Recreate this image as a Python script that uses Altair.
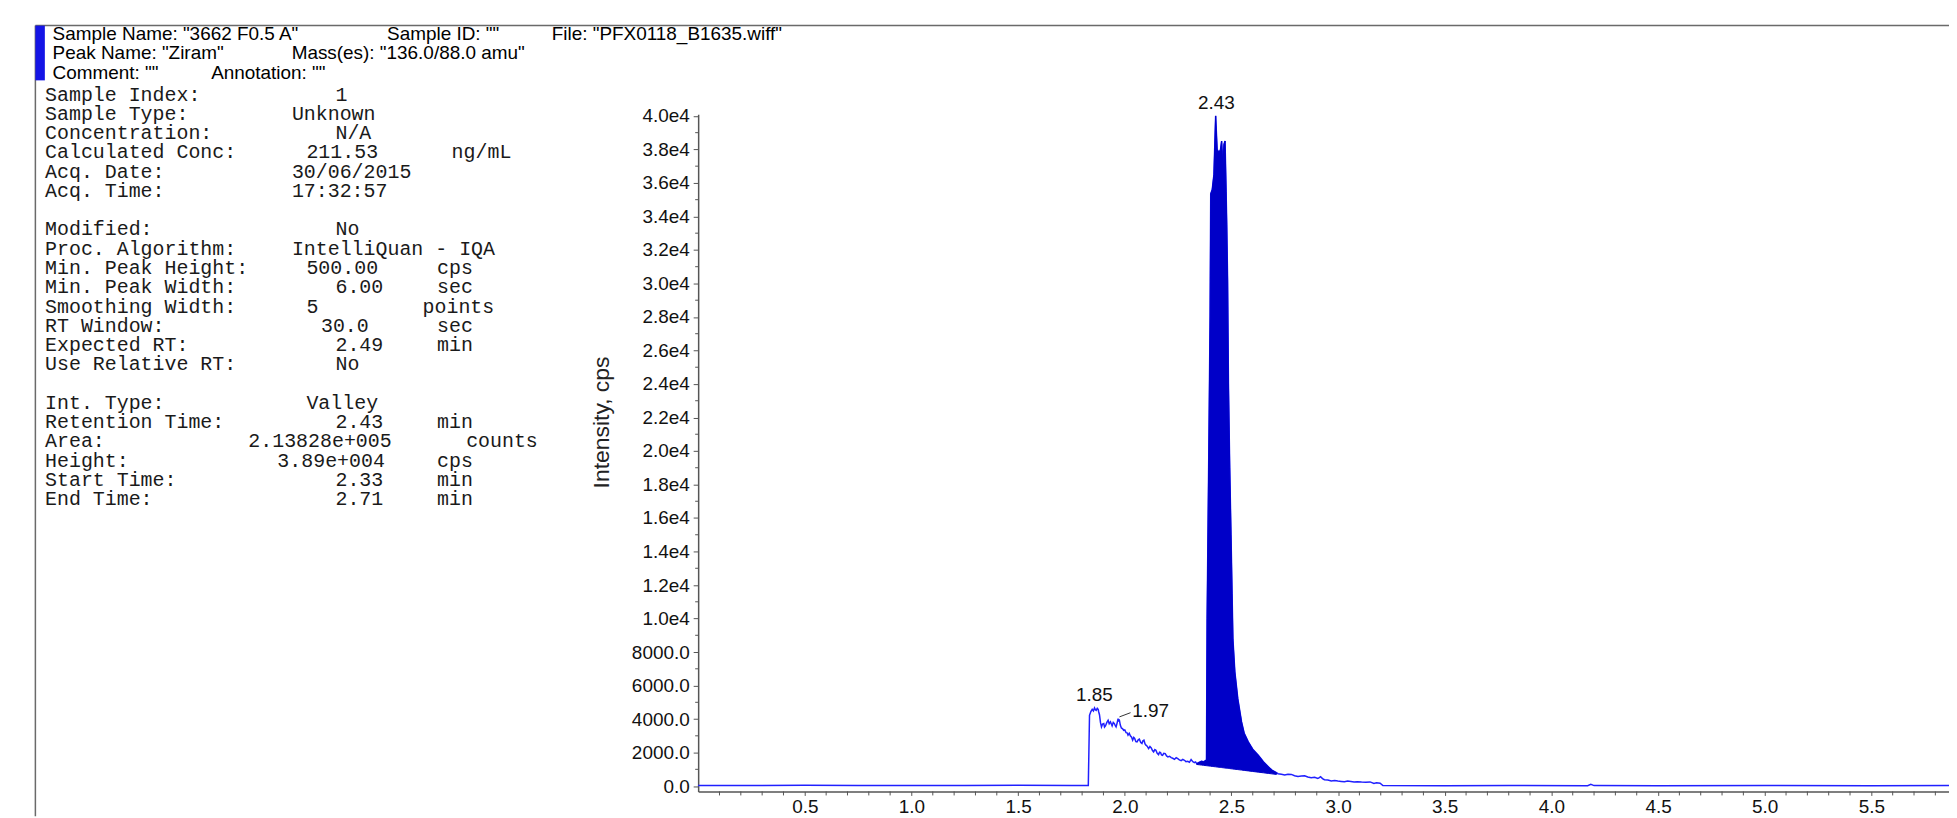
import altair as alt
import pandas as pd

# ---------------- data ----------------
trace_t = [0.0, 0.25, 0.5, 0.75, 1.0, 1.25, 1.5, 1.75, 1.829,
           1.8347, 1.841, 1.8472, 1.853, 1.8581, 1.862, 1.8659, 1.871, 1.8752, 1.878, 1.8814,
           1.886, 1.8908, 1.896, 1.9016, 1.905, 1.9094, 1.916, 1.9219, 1.927, 1.9328, 1.937,
           1.9406, 1.946, 1.9514, 1.955, 1.9592, 1.964, 1.9686, 1.9715, 1.9748, 1.979, 1.9841,
           1.99, 1.995, 2.0, 2.0059, 2.011, 2.0152, 2.021, 2.0261, 2.032, 2.037, 2.042, 2.0464,
           2.052, 2.0573, 2.063, 2.0682, 2.075, 2.0806, 2.085, 2.09, 2.095, 2.0993, 2.105,
           2.1117, 2.118, 2.1242, 2.13, 2.1351, 2.141, 2.146, 2.152, 2.1584, 2.163, 2.1678,
           2.172, 2.1771, 2.183, 2.1895, 2.196, 2.202, 2.21, 2.2176, 2.225, 2.2331, 2.241,
           2.2487, 2.256, 2.2643, 2.272, 2.2798, 2.287, 2.2954, 2.303, 2.3109, 2.319, 2.3265,
           2.332, 2.3374,
           2.35, 2.36, 2.37, 2.383, 2.386, 2.394, 2.40, 2.403, 2.41, 2.418, 2.426, 2.433,
           2.442, 2.449, 2.454, 2.46, 2.465, 2.47, 2.475, 2.478, 2.482, 2.486, 2.492, 2.498,
           2.503, 2.507, 2.516, 2.53, 2.5475, 2.56, 2.579, 2.60, 2.626, 2.65, 2.673, 2.69, 2.711,
           2.7186, 2.734, 2.7497, 2.765, 2.7809, 2.796, 2.812, 2.828, 2.843, 2.858, 2.874, 2.89,
           2.905, 2.912, 2.918, 2.927, 2.936, 2.952, 2.968, 2.984, 2.999, 3.015, 3.03, 3.045,
           3.06, 3.075, 3.09, 3.11, 3.13, 3.15, 3.168, 3.18, 3.197, 3.21,
           3.5, 3.8, 4.17, 4.185, 4.2, 4.5, 5.0, 5.5, 5.864]
trace_i = [40, 30, 45, 35, 40, 30, 45, 35, 40,
           4222, 4450, 4580, 4480, 4660, 4560, 4520, 4640, 4580, 4420, 4260,
           3800, 3530, 3700, 3730, 3520, 3590, 3800, 3930, 3720, 3830, 3700,
           3590, 3800, 3730, 3620, 3530, 3760, 4025, 3900, 3930, 3640, 3470,
           3420, 3330, 3350, 3190, 3180, 3040, 3150, 3000, 2920, 2740, 2900, 2840,
           2650, 2640, 2760, 2800, 2600, 2540, 2700, 2740, 2520, 2440, 2380,
           2240, 2360, 2280, 2120, 2040, 2180, 2140, 1960, 1880, 2020, 2000,
           1860, 1840, 1960, 1940, 1800, 1740, 1780, 1700, 1660, 1600, 1690,
           1640, 1560, 1520, 1590, 1540, 1460, 1480, 1420, 1580, 1450, 1400,
           1440, 1340,
           1420, 1480, 1450, 1560, 10000, 20000, 28000, 35350, 35600, 36500, 40000, 38000,
           37800, 38000, 38500, 37000, 38300, 38500, 35500, 33500, 30200, 24000, 19000, 15000,
           11500, 8770, 6820, 5200, 3830, 3150, 2640, 2200, 1844, 1450, 1153, 950, 795,
           740, 700, 656, 710, 696, 620, 577, 600, 616, 540, 497, 520,
           458, 500, 557, 450, 378, 360, 300, 330, 300, 280, 260, 300,
           280, 250, 260, 240, 230, 250, 160, 200, 170, 30,
           25, 30, 25, 100, 30, 25, 30, 25, 30]

peak_t = [2.3374, 2.35, 2.36, 2.37, 2.383, 2.386, 2.394, 2.40, 2.403, 2.41, 2.418, 2.426,
          2.433, 2.442, 2.449, 2.454, 2.46, 2.465, 2.47, 2.475, 2.478, 2.482, 2.486, 2.492,
          2.498, 2.503, 2.507, 2.516, 2.53, 2.5475, 2.56, 2.579, 2.60, 2.626, 2.65, 2.673,
          2.69, 2.711]
peak_i = [1340, 1420, 1480, 1450, 1560, 10000, 20000, 28000, 35350, 35600, 36500, 40000,
          38000, 37800, 38000, 38500, 37000, 38300, 38500, 35500, 33500, 30200, 24000, 19000,
          15000, 11500, 8770, 6820, 5200, 3830, 3150, 2640, 2200, 1844, 1450, 1153,
          950, 795]
peak_base = [1290, 1270, 1254, 1238, 1217, 1213, 1200, 1191, 1186, 1175, 1162, 1149,
             1138, 1124, 1113, 1105, 1095, 1087, 1079, 1071, 1066, 1060, 1054, 1044,
             1035, 1027, 1020, 1006, 984, 956, 936, 906, 872, 831, 793, 756,
             729, 696]

apex_text = ["2.43", "1.85"]
apex_t = [2.43, 1.858]
apex_i = [40000, 4660]
side_text = ["1.97"]
side_t = [2.035]
side_i = [4460]
leader_t = [1.975, 2.027]
leader_i = [4130, 4380]

x_major = [0.5, 1.0, 1.5, 2.0, 2.5, 3.0, 3.5, 4.0, 4.5, 5.0, 5.5]
x_minor = [0.1, 0.2, 0.3, 0.4, 0.6, 0.7, 0.8, 0.9, 1.1, 1.2, 1.3, 1.4, 1.6, 1.7, 1.8, 1.9,
           2.1, 2.2, 2.3, 2.4, 2.6, 2.7, 2.8, 2.9, 3.1, 3.2, 3.3, 3.4, 3.6, 3.7, 3.8, 3.9,
           4.1, 4.2, 4.3, 4.4, 4.6, 4.7, 4.8, 4.9, 5.1, 5.2, 5.3, 5.4, 5.6, 5.7, 5.8]
y_major = [0, 2000, 4000, 6000, 8000, 10000, 12000, 14000, 16000, 18000, 20000,
           22000, 24000, 26000, 28000, 30000, 32000, 34000, 36000, 38000, 40000]
y_minor = [1000, 3000, 5000, 7000, 9000, 11000, 13000, 15000, 17000, 19000,
           21000, 23000, 25000, 27000, 29000, 31000, 33000, 35000, 37000, 39000]

header_segments = ['Sample Name: "3662 F0.5 A"', 'Sample ID: ""', 'File: "PFX0118_B1635.wiff"',
                   'Peak Name: "Ziram"', 'Mass(es): "136.0/88.0 amu"',
                   'Comment: ""', 'Annotation: ""']

info_labels = ["Sample Index:", "Sample Type:", "Concentration:", "Calculated Conc:",
               "Acq. Date:", "Acq. Time:", "Modified:", "Proc. Algorithm:",
               "Min. Peak Height:", "Min. Peak Width:", "Smoothing Width:", "RT Window:",
               "Expected RT:", "Use Relative RT:", "Int. Type:", "Retention Time:",
               "Area:", "Height:", "Start Time:", "End Time:"]
info_values = ["1", "Unknown", "N/A", "211.53", "30/06/2015", "17:32:57", "No",
               "IntelliQuan - IQA", "500.00", "6.00", "5", "30.0", "2.49", "No",
               "Valley", "2.43", "2.13828e+005", "3.89e+004", "2.33", "2.71"]
info_units = ["", "", "", "ng/mL", "", "", "", "", "cps", "sec", "points", "sec", "min", "",
              "", "min", "counts", "cps", "min", "min"]

# ---------------- layout (pixels) ----------------
OX, OY = 701, 113          # plot-area origin on the page
PW, PH = 1256, 680         # plot-area size
header_x = [52.8, 388.6, 554, 52.8, 292.8, 52.8, 212]
header_y = [32, 32, 32, 52, 52, 72, 72]
info_row = [0, 1, 2, 3, 4, 5, 7, 8, 9, 10, 11, 12, 13, 14, 16, 17, 18, 19, 20, 21]
value_col = [20, 17, 20, 18, 17, 17, 20, 17, 18, 20, 18, 19, 20, 20, 18, 20, 14, 16, 20, 20]
unit_col = [0, 0, 0, 28, 0, 0, 0, 0, 27, 27, 26, 27, 27, 0, 0, 27, 29, 27, 27, 27]
COL0, PITCH, ROW0, ROWH = 45.2, 14.58, 93.3, 19.35

xs = alt.Scale(domain=[0, 5.864], nice=False, zero=False)
ys = alt.Scale(domain=[-320, 40100], nice=False, zero=False)

AX = "#555555"
FONT = "Liberation Sans"

x_axis = alt.Axis(
    values=x_major, format=".1f", title=None, grid=False, tickSize=4, labelPadding=2,
    labelFont=FONT, labelFontSize=19, labelColor="#111", domainColor=AX, domainWidth=1.5,
    tickColor=AX, labelFlush=False)
y_axis = alt.Axis(
    values=y_major, grid=False, tickSize=5, labelPadding=4,
    labelExpr="datum.value >= 10000 ? format(datum.value / 10000, '.1f') + 'e4' : format(datum.value, '.1f')",
    labelFont=FONT, labelFontSize=19, labelColor="#111", domainColor=AX, domainWidth=1.5,
    tickColor=AX, labelFlush=False,
    title="Intensity, cps", titleFont=FONT, titleFontSize=23, titleFontWeight="normal",
    titleColor="#222", titleX=604 - OX, titleY=422 - OY, titleAngle=270,
    titleAlign="center", titleBaseline="middle")


def X():
    return alt.X("t:Q", scale=xs, axis=x_axis)


def Y():
    return alt.Y("i:Q", scale=ys, axis=y_axis)


trace_df = pd.DataFrame({"t": trace_t, "i": trace_i})
peak_df = pd.DataFrame({"t": peak_t, "i": peak_i, "b": peak_base})

line = alt.Chart(trace_df).mark_line(color="#2020ff", strokeWidth=1.5).encode(x=X(), y=Y())

area = alt.Chart(peak_df).mark_area(color="#0000c8", stroke="#0000c8", strokeWidth=1).encode(
    x=X(), y=Y(), y2="b:Q")

xminor = alt.Chart(pd.DataFrame({"t": x_minor})).mark_rule(color=AX).encode(
    x=X(), y=alt.value(PH), y2=alt.value(PH + 4))
yminor = alt.Chart(pd.DataFrame({"i": y_minor})).mark_rule(color=AX).encode(
    y=Y(), x=alt.value(-3), x2=alt.value(0))

apex = alt.Chart(pd.DataFrame({"t": apex_t, "i": apex_i, "s": apex_text})).mark_text(
    align="center", baseline="bottom", dy=-3, font=FONT, fontSize=19, color="#111").encode(
    x=X(), y=Y(), text="s:N")
side = alt.Chart(pd.DataFrame({"t": side_t, "i": side_i, "s": side_text})).mark_text(
    align="left", baseline="middle", font=FONT, fontSize=19, color="#111").encode(
    x=X(), y=Y(), text="s:N")
leader = alt.Chart(pd.DataFrame({"t": leader_t, "i": leader_i})).mark_line(
    color="#333", strokeWidth=1).encode(x=X(), y=Y())

# header and info panel
hdr_df = pd.DataFrame({"s": header_segments,
                       "px": [v - OX for v in header_x],
                       "py": [v - OY for v in header_y]})
header = alt.Chart(hdr_df).mark_text(align="left", baseline="middle", font=FONT,
                                     fontSize=19, color="#000").encode(
    x=alt.X("px:Q", scale=None, axis=None), y=alt.Y("py:Q", scale=None, axis=None), text="s:N")

rows = []
for k, lab in enumerate(info_labels):
    py = ROW0 + info_row[k] * ROWH - OY
    rows.append({"s": lab, "px": COL0 - OX, "py": py})
    rows.append({"s": info_values[k], "px": COL0 + value_col[k] * PITCH - OX, "py": py})
    if info_units[k]:
        rows.append({"s": info_units[k], "px": COL0 + unit_col[k] * PITCH - OX, "py": py})
info = alt.Chart(pd.DataFrame(rows)).mark_text(align="left", baseline="middle",
                                                font="Liberation Mono", fontSize=20,
                                                color="#1a1a1a").encode(
    x=alt.X("px:Q", scale=None, axis=None), y=alt.Y("py:Q", scale=None, axis=None), text="s:N")

frame_top = alt.Chart().mark_rule(color="#6a6a6a", strokeWidth=1.5).encode(
    x=alt.value(35.5 - OX), x2=alt.value(1957 - OX), y=alt.value(24 - OY))
frame_left = alt.Chart().mark_rule(color="#6a6a6a", strokeWidth=1.5).encode(
    x=alt.value(35.5 - OX), y=alt.value(24 - OY), y2=alt.value(818 - OY))
bar = alt.Chart().mark_rect(color="#1414e6").encode(
    x=alt.value(35.5 - OX), x2=alt.value(45 - OX), y=alt.value(24 - OY), y2=alt.value(79 - OY))

chart = alt.layer(
    frame_top, frame_left, bar, header, info,
    xminor, yminor, line, area, leader, apex, side,
).properties(
    width=PW, height=PH,
    autosize=alt.AutoSizeParams(type="none"),
    padding={"left": OX - 8, "top": OY - 8, "right": 0, "bottom": 25},
    background="white",
).configure_view(stroke=None)

chart.save("out.html", embed_options={"renderer": "svg", "actions": False})
